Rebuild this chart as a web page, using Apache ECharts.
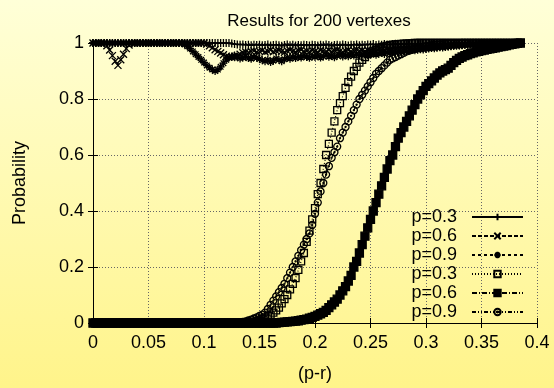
<!DOCTYPE html>
<html>
<head>
<meta charset="utf-8">
<script src="https://cdn.jsdelivr.net/npm/echarts@6/dist/echarts.min.js"></script>
<style>
  html, body { margin: 0; padding: 0; }
  #chart { width: 554px; height: 388px; background: linear-gradient(#ffffd8, #fff48a); }
</style>
</head>
<body>
<div id="chart"></div>
<script>
// (p-r) sample positions
const pr = [
  0, 0.0025, 0.005, 0.0075, 0.01, 0.0125, 0.015, 0.0175, 0.02, 0.0225, 0.025, 0.0275, 0.03, 0.0325, 0.035, 0.0375, 0.04, 0.0425, 0.045, 0.0475,
  0.05, 0.0525, 0.055, 0.0575, 0.06, 0.0625, 0.065, 0.0675, 0.07, 0.0725, 0.075, 0.0775, 0.08, 0.0825, 0.085, 0.0875, 0.09, 0.0925, 0.095, 0.0975,
  0.1, 0.1025, 0.105, 0.1075, 0.11, 0.1125, 0.115, 0.1175, 0.12, 0.1225, 0.125, 0.1275, 0.13, 0.1325, 0.135, 0.1375, 0.14, 0.1425, 0.145, 0.1475,
  0.15, 0.1525, 0.155, 0.1575, 0.16, 0.1625, 0.165, 0.1675, 0.17, 0.1725, 0.175, 0.1775, 0.18, 0.1825, 0.185, 0.1875, 0.19, 0.1925, 0.195, 0.1975,
  0.2, 0.2025, 0.205, 0.2075, 0.21, 0.2125, 0.215, 0.2175, 0.22, 0.2225, 0.225, 0.2275, 0.23, 0.2325, 0.235, 0.2375, 0.24, 0.2425, 0.245, 0.2475,
  0.25, 0.2525, 0.255, 0.2575, 0.26, 0.2625, 0.265, 0.2675, 0.27, 0.2725, 0.275, 0.2775, 0.28, 0.2825, 0.285, 0.2875, 0.29, 0.2925, 0.295, 0.2975,
  0.3, 0.3025, 0.305, 0.3075, 0.31, 0.3125, 0.315, 0.3175, 0.32, 0.3225, 0.325, 0.3275, 0.33, 0.3325, 0.335, 0.3375, 0.34, 0.3425, 0.345, 0.3475,
  0.35, 0.3525, 0.355, 0.3575, 0.36, 0.3625, 0.365, 0.3675, 0.37, 0.3725, 0.375, 0.3775, 0.38, 0.3825, 0.385
]

// upper group
const upperP03 = [
  1, 1, 1, 1, 1, 1, 1, 1, 1, 1, 1, 1, 1, 1, 1, 1, 1, 1, 1, 1,
  1, 1, 1, 1, 1, 1, 1, 1, 1, 1, 1, 1, 1, 1, 1, 1, 1, 1, 1, 1,
  1, 1, 1, 1, 1, 1, 1, 1, 1, 1, 0.998, 0.996, 0.995, 0.994, 0.995, 0.993, 0.994, 0.992, 0.994, 0.993,
  0.994, 0.992, 0.993, 0.995, 0.991, 0.993, 0.994, 0.992, 0.99, 0.993, 0.995, 0.992, 0.994, 0.991, 0.993, 0.992, 0.994, 0.993, 0.991, 0.994,
  0.993, 0.991, 0.994, 0.992, 0.995, 0.993, 0.99, 0.993, 0.994, 0.992, 0.995, 0.993, 0.991, 0.994, 0.993, 0.995, 0.992, 0.994, 0.993, 0.995,
  0.994, 0.996, 0.993, 0.995, 0.994, 0.996, 0.995, 0.994, 0.996, 0.997, 0.995, 0.996, 0.997, 0.996, 0.998, 0.997, 0.996, 0.998, 0.997, 0.998,
  0.998, 0.997, 0.998, 0.999, 0.998, 0.999, 0.999, 0.998, 0.999, 1, 0.999, 1, 1, 1, 1, 1, 1, 1, 1, 1,
  1, 1, 1, 1, 1, 1, 1, 1, 1, 1, 1, 1, 1, 1, 1
]
const upperP06 = [
  1, 1, 1, 1, 1, 0.99, 0.975, 0.955, 0.935, 0.92, 0.94, 0.96, 0.98, 0.993, 1, 1, 1, 1, 1, 1,
  1, 1, 1, 1, 1, 1, 1, 1, 1, 1, 1, 1, 1, 1, 1, 1, 1, 1, 1, 1,
  1, 0.996, 0.99, 0.983, 0.976, 0.97, 0.964, 0.958, 0.953, 0.95, 0.948, 0.95, 0.955, 0.96, 0.965, 0.968, 0.966, 0.97, 0.972, 0.968,
  0.97, 0.973, 0.968, 0.971, 0.975, 0.969, 0.972, 0.974, 0.97, 0.967, 0.972, 0.975, 0.971, 0.968, 0.973, 0.976, 0.97, 0.972, 0.969, 0.974,
  0.971, 0.968, 0.974, 0.972, 0.97, 0.975, 0.969, 0.973, 0.976, 0.971, 0.968, 0.972, 0.975, 0.97, 0.973, 0.977, 0.972, 0.974, 0.97, 0.975,
  0.973, 0.976, 0.972, 0.978, 0.975, 0.974, 0.979, 0.976, 0.978, 0.98, 0.977, 0.981, 0.979, 0.982, 0.98, 0.983, 0.981, 0.984, 0.983, 0.985,
  0.984, 0.986, 0.985, 0.987, 0.988, 0.987, 0.989, 0.99, 0.989, 0.991, 0.992, 0.991, 0.993, 0.994, 0.993, 0.995, 0.996, 0.996, 0.997, 0.998,
  0.998, 0.999, 0.999, 1, 1, 1, 1, 1, 1, 1, 1, 1, 1, 1, 1
]
const upperP09 = [
  1, 1, 1, 1, 1, 1, 1, 1, 1, 1, 1, 1, 1, 1, 1, 1, 1, 1, 1, 1,
  1, 1, 1, 1, 1, 1, 1, 1, 1, 1, 1, 1, 1, 0.995, 0.988, 0.98, 0.97, 0.96, 0.95, 0.94,
  0.93, 0.92, 0.912, 0.905, 0.9, 0.905, 0.915, 0.928, 0.94, 0.948, 0.952, 0.955, 0.95, 0.945, 0.948, 0.952, 0.946, 0.944, 0.95, 0.947,
  0.943, 0.938, 0.935, 0.94, 0.932, 0.937, 0.945, 0.94, 0.935, 0.942, 0.948, 0.944, 0.95, 0.946, 0.952, 0.948, 0.955, 0.95, 0.947, 0.953,
  0.95, 0.955, 0.948, 0.952, 0.957, 0.951, 0.954, 0.949, 0.955, 0.958, 0.952, 0.956, 0.953, 0.958, 0.955, 0.96, 0.956, 0.959, 0.962, 0.957,
  0.96, 0.963, 0.958, 0.962, 0.965, 0.961, 0.966, 0.964, 0.968, 0.966, 0.97, 0.968, 0.972, 0.97, 0.973, 0.975, 0.974, 0.976, 0.978, 0.977,
  0.979, 0.98, 0.982, 0.981, 0.983, 0.985, 0.984, 0.986, 0.987, 0.988, 0.989, 0.99, 0.991, 0.992, 0.993, 0.994, 0.995, 0.996, 0.996, 0.997,
  0.998, 0.998, 0.999, 0.999, 1, 1, 1, 1, 1, 1, 1, 1, 1, 1, 1
]

// rising group
const riseP03 = [
  0, 0, 0, 0, 0, 0, 0, 0, 0, 0, 0, 0, 0, 0, 0, 0, 0, 0, 0, 0,
  0, 0, 0, 0, 0, 0, 0, 0, 0, 0, 0, 0, 0, 0, 0, 0, 0, 0, 0, 0,
  0, 0, 0, 0, 0, 0, 0, 0, 0, 0, 0, 0, 0, 0, 0, 0, 0, 0.003, 0.005, 0.008,
  0.012, 0.016, 0.02, 0.025, 0.03, 0.037, 0.045, 0.055, 0.07, 0.085, 0.1, 0.12, 0.14, 0.16, 0.19, 0.22, 0.25, 0.29, 0.33, 0.37,
  0.41, 0.46, 0.5, 0.55, 0.6, 0.64, 0.68, 0.72, 0.76, 0.785, 0.81, 0.84, 0.86, 0.88, 0.9, 0.915, 0.93, 0.94, 0.95, 0.96,
  0.965, 0.97, 0.975, 0.98, 0.985, 0.988, 0.99, 0.992, 0.994, 0.995, 0.996, 0.997, 0.998, 0.998, 0.999, 0.999, 1, 1, 1, 1,
  1, 1, 1, 1, 1, 1, 1, 1, 1, 1, 1, 1, 1, 1, 1, 1, 1, 1, 1, 1,
  1, 1, 1, 1, 1, 1, 1, 1, 1, 1, 1, 1, 1, 1, 1
]
const riseP06 = [
  0, 0, 0, 0, 0, 0, 0, 0, 0, 0, 0, 0, 0, 0, 0, 0, 0, 0, 0, 0,
  0, 0, 0, 0, 0, 0, 0, 0, 0, 0, 0, 0, 0, 0, 0, 0, 0, 0, 0, 0,
  0, 0, 0, 0, 0, 0, 0, 0, 0, 0, 0, 0, 0, 0, 0, 0, 0, 0, 0, 0,
  0, 0, 0, 0, 0, 0, 0, 0.001, 0.002, 0.003, 0.004, 0.005, 0.006, 0.007, 0.008, 0.01, 0.012, 0.014, 0.017, 0.02,
  0.024, 0.028, 0.033, 0.038, 0.045, 0.055, 0.065, 0.075, 0.085, 0.1, 0.115, 0.13, 0.15, 0.17, 0.2, 0.22, 0.25, 0.28, 0.31, 0.34,
  0.37, 0.4, 0.43, 0.46, 0.49, 0.52, 0.55, 0.58, 0.6, 0.63, 0.66, 0.68, 0.7, 0.72, 0.74, 0.76, 0.78, 0.8, 0.815, 0.83,
  0.845, 0.855, 0.865, 0.875, 0.885, 0.893, 0.9, 0.905, 0.91, 0.92, 0.93, 0.938, 0.945, 0.95, 0.955, 0.958, 0.962, 0.965, 0.968, 0.97,
  0.973, 0.975, 0.977, 0.979, 0.981, 0.983, 0.985, 0.987, 0.989, 0.991, 0.993, 0.995, 0.997, 0.999, 1
]
const riseP09 = [
  0, 0, 0, 0, 0, 0, 0, 0, 0, 0, 0, 0, 0, 0, 0, 0, 0, 0, 0, 0,
  0, 0, 0, 0, 0, 0, 0, 0, 0, 0, 0, 0, 0, 0, 0, 0, 0, 0, 0, 0,
  0, 0, 0, 0, 0, 0, 0, 0, 0, 0, 0, 0, 0, 0.002, 0.004, 0.006, 0.009, 0.012, 0.016, 0.02,
  0.025, 0.03, 0.037, 0.05, 0.065, 0.08, 0.095, 0.11, 0.125, 0.14, 0.16, 0.18, 0.2, 0.22, 0.24, 0.26, 0.28, 0.3, 0.32, 0.35,
  0.39, 0.43, 0.47, 0.5, 0.53, 0.56, 0.59, 0.61, 0.63, 0.66, 0.68, 0.7, 0.72, 0.74, 0.76, 0.78, 0.8, 0.815, 0.83, 0.845,
  0.86, 0.875, 0.89, 0.9, 0.91, 0.92, 0.93, 0.94, 0.945, 0.95, 0.955, 0.96, 0.965, 0.97, 0.973, 0.976, 0.979, 0.982, 0.985, 0.987,
  0.989, 0.99, 0.992, 0.993, 0.994, 0.995, 0.996, 0.997, 0.997, 0.998, 0.998, 0.999, 0.999, 1, 1, 1, 1, 1, 1, 1,
  1, 1, 1, 1, 1, 1, 1, 1, 1, 1, 1, 1, 1, 1, 1
]

const legendNames = ["p=0.3", "p=0.6", "p=0.9", "p=0.3", "p=0.6", "p=0.9"]
const xTicks = [0, 0.05, 0.1, 0.15, 0.2, 0.25, 0.3, 0.35, 0.4]

const FONT = "Liberation Sans"
const PLUS = "path://M5,0L5,10M0,5L10,5"
const CROSS = "path://M0,0L10,10M10,0L0,10"
const STAR = "path://M5,0L5,10M0,5L10,5M1.5,1.5L8.5,8.5M8.5,1.5L1.5,8.5"
const SQUARE = "path://M0,0L10,0L10,10L0,10Z"
const CIRCLE = "path://M0,5A5,5 0 1,1 10,5A5,5 0 1,1 0,5ZM4.3,5A0.7,0.7 0 1,1 5.7,5A0.7,0.7 0 1,1 4.3,5Z"

function makeSeries(idx, ys, symbol, size, filled, dash) {
  return {
    name: legendNames[idx] + "#" + idx,
    type: "line",
    data: pr.map((x, i) => [x, ys[i]]),
    symbol: symbol,
    symbolSize: size,
    lineStyle: { color: "#000", width: 1.2, type: dash },
    itemStyle: {
      color: filled ? "#000" : "rgba(0,0,0,0)",
      borderColor: "#000",
      borderWidth: 1.3,
    },
    emphasis: { disabled: true },
    z: 2 + idx,
  }
}

const chart = echarts.init(document.getElementById("chart"))

const tickAxis = {
  min: 0,
  axisLine: { show: true, lineStyle: { color: "#000", width: 1 } },
  axisTick: { show: true, inside: true, length: 5, lineStyle: { color: "#000" } },
}

chart.setOption({
  animation: false,
  backgroundColor: "transparent",
  textStyle: { fontFamily: FONT },
  title: {
    text: "Results for 200 vertexes",
    left: 314,
    top: 8,
    textAlign: "center",
    textStyle: { fontFamily: FONT, fontSize: 17, fontWeight: "normal", color: "#000" },
  },
  grid: { left: 93, right: 17, top: 43, bottom: 58 },
  legend: {
    orient: "vertical",
    right: 25,
    top: 203,
    align: "right",
    itemWidth: 51,
    itemHeight: 8,
    itemGap: 1,
    formatter: (name) => name.split("#")[0],
    textStyle: { fontFamily: FONT, fontSize: 18, color: "#000", padding: [0, 10, 0, 0] },
    selectedMode: false,
  },
  xAxis: [
    {
      ...tickAxis,
      type: "value",
      max: 0.4,
      interval: 0.05,
      position: "bottom",
      name: "(p-r)",
      nameLocation: "middle",
      nameGap: 42,
      nameTextStyle: { fontFamily: FONT, fontSize: 18, color: "#000" },
      axisLabel: {
        margin: 11,
        fontSize: 18,
        color: "#000",
        fontFamily: FONT,
        formatter: (v) => String(xTicks.find((t) => Math.abs(t - v) < 1e-9) ?? v),
      },
      splitLine: { show: true, lineStyle: { color: "#666", type: [1, 2], width: 1 } },
    },
    {
      ...tickAxis,
      type: "value",
      max: 0.4,
      interval: 0.05,
      position: "top",
      axisLabel: { show: false },
      splitLine: { show: false },
    },
  ],
  yAxis: [
    {
      ...tickAxis,
      type: "value",
      max: 1,
      interval: 0.2,
      position: "left",
      name: "Probability",
      nameLocation: "middle",
      nameGap: 64,
      nameTextStyle: { fontFamily: FONT, fontSize: 18, color: "#000" },
      axisLabel: { margin: 9, fontSize: 18, color: "#000", fontFamily: FONT },
      splitLine: { show: true, lineStyle: { color: "#666", type: [1, 2], width: 1 } },
    },
    {
      ...tickAxis,
      type: "value",
      max: 1,
      interval: 0.2,
      position: "right",
      axisLabel: { show: false },
      splitLine: { show: false },
    },
  ],
  series: [
    makeSeries(0, upperP03, PLUS, 8, false, "solid"),
    makeSeries(1, upperP06, CROSS, 7, false, [4, 2]),
    makeSeries(2, upperP09, STAR, 8, false, [3, 3]),
    makeSeries(3, riseP03, SQUARE, 7, false, [1, 2]),
    makeSeries(4, riseP06, "rect", 8, true, [5, 2, 1, 2]),
    makeSeries(5, riseP09, CIRCLE, 7, false, [4, 2, 1, 2, 1, 2]),
  ],
})
</script>
</body>
</html>
